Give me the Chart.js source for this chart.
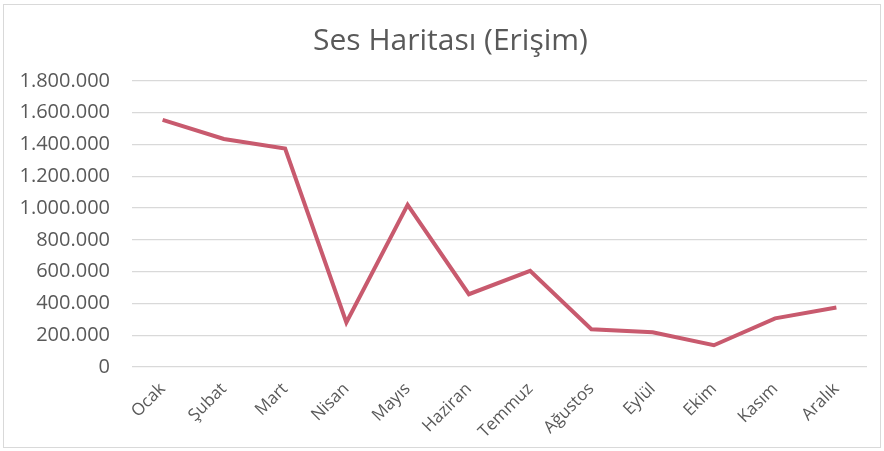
<!DOCTYPE html>
<html><head><meta charset="utf-8">
<script src="https://cdn.jsdelivr.net/npm/chart.js@4"></script>
<style>
html,body{margin:0;padding:0;background:#fff;}
#wrap{position:absolute;left:0;top:0;width:884px;height:451px;}
#frame{position:absolute;left:3px;top:4px;width:876px;height:442px;border:1px solid #d9d9d9;pointer-events:none;}
</style></head>
<body>
<div id="wrap"><canvas id="c" width="884" height="451"></canvas></div>
<div id="frame"></div>
<script>
const categories = ['Ocak','Şubat','Mart','Nisan','Mayıs','Haziran','Temmuz','Ağustos','Eylül','Ekim','Kasım','Aralık'];
const erisim = [1555000, 1435000, 1375000, 280000, 1020000, 458000, 605000, 238000, 218000, 137000, 306000, 375000];
const yTicks = [0, 200000, 400000, 600000, 800000, 1000000, 1200000, 1400000, 1600000, 1800000];
const titleText = 'Ses Haritası (Erişim)';

function fmt(v){ return String(v).replace(/\B(?=(\d{3})+(?!\d))/g, '.'); }

const shiftTitle = {
  id: 'shiftTitle',
  afterLayout(chart) { if (chart.titleBlock) { chart.titleBlock.left = 34; } }
};

new Chart(document.getElementById('c'), {
  type: 'line',
  data: { labels: categories, datasets: [{ data: erisim, borderColor: '#c85a6e', borderWidth: 4, pointRadius: 0, tension: 0, fill: false }] },
  plugins: [shiftTitle],
  options: {
    responsive: false, animation: false,
    layout: { padding: { left: 0, right: 17, top: 0, bottom: 0 } },
    plugins: {
      legend: { display: false }, tooltip: { enabled: false },
      title: { display: true, text: titleText, color: '#595959', font: { family: 'Open Sans', size: 30, weight: 'normal', lineHeight: 1.2 }, padding: { top: 23, bottom: 22 } }
    },
    scales: {
      x: {
        offset: true,
        grid: { display: false, drawTicks: false, offset: true },
        border: { display: false },
        ticks: { color: '#595959', font: { family: 'Open Sans', size: 17 }, maxRotation: 45, minRotation: 45, padding: 12, autoSkip: false },
        afterFit: s => { s.height = 84; }
      },
      y: {
        min: 0, max: 1800000,
        afterBuildTicks: s => { s.ticks = yTicks.map(v => ({ value: v })); },
        grid: { color: '#d9d9d9', lineWidth: 1.3, drawTicks: false },
        border: { display: false },
        ticks: { color: '#595959', font: { family: 'Open Sans', size: 20 }, padding: 22, callback: v => fmt(v) },
        afterFit: s => { s.width = 132; }
      }
    }
  }
});
</script>
</body></html>
